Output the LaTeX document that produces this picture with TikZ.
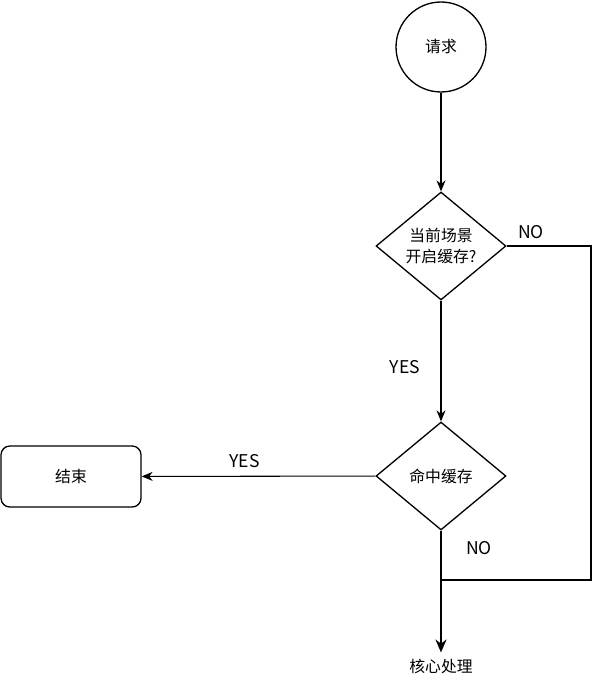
\documentclass[tikz,border=0pt]{standalone}
\usepackage{fontspec}
\setmainfont{Noto Sans CJK SC}
\usetikzlibrary{shapes.geometric,arrows.meta,positioning,calc}
\tikzstyle{startstop} = [circle, draw, line width=0.75pt, minimum size=1.8cm, inner sep=0pt]
\tikzstyle{decision} = [diamond, draw, line width=0.75pt, minimum width=2.6cm, minimum height=2.16cm,
    inner sep=0pt, aspect=1.2, text centered, align=center]
\tikzstyle{block} = [rectangle, draw, line width=0.75pt, rounded corners=5pt,
    minimum width=2.8cm, minimum height=1.22cm]
\tikzstyle{arrow} = [-{Stealth[length=2.2mm,width=1.8mm]}, line width=0.6pt]
\tikzstyle{line} = [line width=0.6pt]
\tikzstyle{lbl} = [font=\fontsize{10}{12}\selectfont]

\begin{document}
\begin{tikzpicture}[x=0.02cm, y=-0.02cm, font=\fontsize{9}{12.5}\selectfont]
\useasboundingbox (0,0) rectangle (599,682);
\node[startstop] (n1) at (441,47) {请求};
\node[decision] (n2) at (441,246) {当前场景\\开启缓存?};
\node[decision] (n3) at (441,476) {命中缓存};
\node[block] (n4) at (71,476.5) {结束};
\node (n5) at (441,666) {核心处理};
\coordinate (join) at (441,580);
\coordinate (corner) at (591,580);

\draw[arrow] (n1) -- (n2);
\draw[arrow] (n2) -- node[lbl, pos=0.55, xshift=-0.72cm]{YES} (n3);
\draw[arrow] (n3) -- node[lbl, above, yshift=1pt, xshift=-0.28cm]{YES} (n4);
\draw[line] (n2.east) -| (corner) -- (join);
\node[lbl] at (531,232) {NO};
\draw[line] (n3.south) -- (join);
\node[lbl] at (479,548) {NO};
\draw[-{Stealth[length=2.6mm,width=2.2mm]}, line width=1.2pt] (join) -- (n5.north);
\end{tikzpicture}
\end{document}
